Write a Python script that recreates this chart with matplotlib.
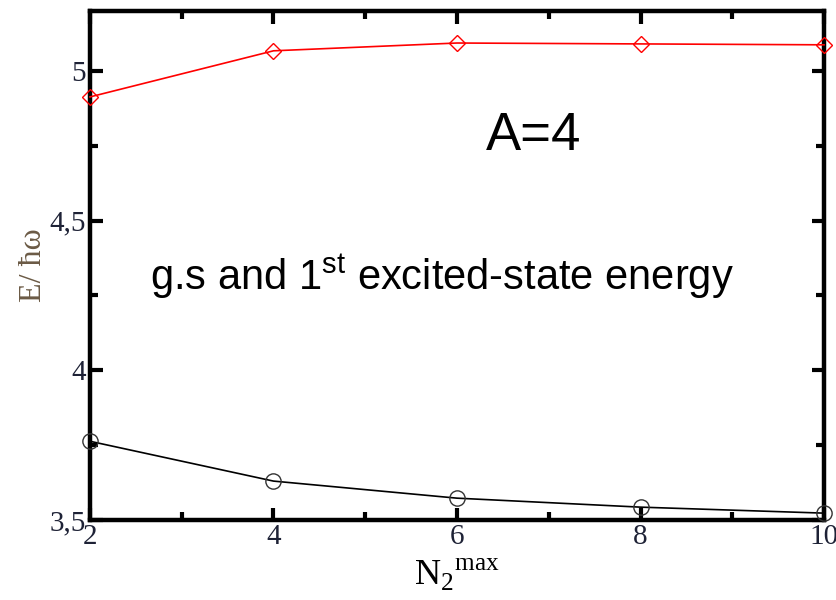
import matplotlib
matplotlib.use("Agg")
import matplotlib.pyplot as plt
from matplotlib.ticker import MultipleLocator, FuncFormatter

# N2max truncation and the energies of the two lowest states
n2max = [2, 4, 6, 8, 10]
excited = [4.913, 5.067, 5.093, 5.090, 5.087]
ground = [3.763, 3.630, 3.573, 3.543, 3.523]

plt.rcParams['mathtext.fontset'] = 'custom'
plt.rcParams['mathtext.rm'] = 'Liberation Serif'
plt.rcParams['mathtext.sf'] = 'Liberation Sans'

fig = plt.figure(figsize=(8.37, 6.0), dpi=100, facecolor='white')
ax = fig.add_axes([0.1075, 0.1333, 0.877, 0.8484])

ax.plot(n2max, excited, color='red', lw=1.2, marker='D', ms=8, mfc='none',
        mec='red', mew=1.0, clip_on=False, zorder=3)
ax.plot(n2max, ground, color='black', lw=1.2, marker='o', ms=11, mfc='none',
        mec='#333333', mew=1.0, clip_on=False, zorder=3)

ax.set_xlim(2, 10)
ax.set_ylim(3.5, 5.2)
ax.xaxis.set_major_locator(MultipleLocator(2))
ax.xaxis.set_minor_locator(MultipleLocator(1))
ax.yaxis.set_major_locator(MultipleLocator(0.5))
ax.yaxis.set_minor_locator(MultipleLocator(0.25))
ax.yaxis.set_major_formatter(FuncFormatter(lambda v, p: ('%g' % v).replace('.', ',')))

for s in ax.spines.values():
    s.set_linewidth(3.2)
ax.tick_params(which='both', direction='in', top=True, right=True, width=3)
ax.tick_params(which='major', length=9, labelsize=21, pad=3)
ax.tick_params(which='minor', length=6)
for lab in ax.get_xticklabels() + ax.get_yticklabels():
    lab.set_family('Liberation Serif')
    lab.set_color('#1e2236')

ax.set_xlabel(r'N$_{2}{}^{\mathrm{max}}$', fontsize=26, family='Liberation Serif', labelpad=5)
ax.set_ylabel('E/ ħω', fontsize=23, family='Liberation Serif', color='#6b5a45', labelpad=1)

ax.text(0.605, 0.727, 'A=4', transform=ax.transAxes, fontsize=38,
        family='Liberation Sans', ha='center', va='baseline')
ax.text(0.48, 0.452, r'g.s and 1$^{\mathsf{st}}$ excited-state energy', transform=ax.transAxes,
        fontsize=30, family='Liberation Sans', ha='center', va='baseline')

fig.savefig('out.png', dpi=100)
